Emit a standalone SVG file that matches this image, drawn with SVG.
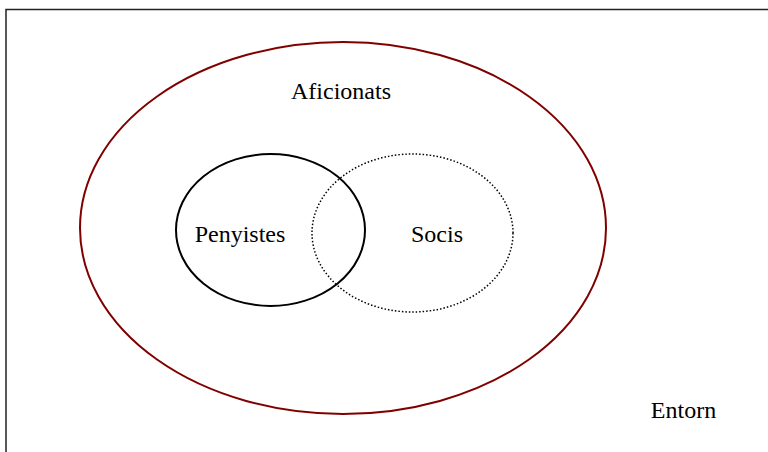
<svg xmlns="http://www.w3.org/2000/svg" width="768" height="452" viewBox="0 0 768 452">
<style>
text{font-family:"Liberation Serif","Times New Roman",serif;font-size:24px;fill:#000;text-anchor:middle}
.frame{fill:none;stroke:#222;stroke-width:1.5}
</style>
<rect width="768" height="452" fill="#fff"/>
<rect class="frame" x="6" y="9.5" width="780" height="460"/>
<g id="aficionats">
<ellipse cx="343" cy="228" rx="263" ry="186" fill="none" stroke="#800000" stroke-width="2"/>
<text x="341" y="99">Aficionats</text>
</g>
<g id="penyistes">
<ellipse cx="270.5" cy="230" rx="94.5" ry="76" fill="none" stroke="#000" stroke-width="2"/>
<text x="240" y="242">Penyistes</text>
</g>
<g id="socis">
<ellipse cx="412.5" cy="233" rx="100.5" ry="79" fill="none" stroke="#000" stroke-width="1.5" stroke-dasharray="1.5 2"/>
<text x="437" y="242">Socis</text>
</g>
<g id="entorn">
<text x="683.5" y="418">Entorn</text>
</g>
<g id="connectors"/>
</svg>
